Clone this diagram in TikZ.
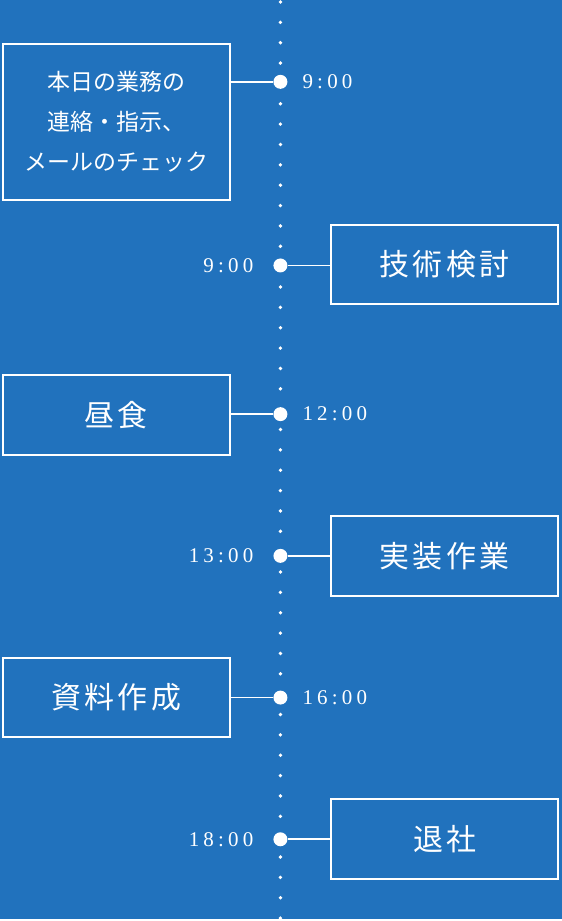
\documentclass[tikz,border=0pt]{standalone}
\usepackage{fontspec}
\setmainfont{Liberation Serif}
\newfontfamily\jpfont[LetterSpace=11]{Noto Sans CJK JP}
\newfontfamily\jpsmall{Noto Sans CJK JP}
\definecolor{bgblue}{HTML}{2172BD}

\begin{document}
\begin{tikzpicture}[x=1pt, y=-1pt,
    every node/.style={text=white},
    task/.style={draw=white, line width=2pt, minimum width=227pt, minimum height=80pt, inner sep=0pt, font=\jpfont\fontsize{30}{34}\selectfont},
    stamp/.style={circle, fill=white, minimum size=14pt, inner sep=0pt},
    clock/.style={inner sep=0pt, font=\addfontfeatures{LetterSpace=20}\fontsize{21}{22}\selectfont},
    link/.style={white, line width=1.8pt}]
  \fill[bgblue] (0,0) rectangle (563,921);
  \draw[white, line width=3.8pt, line cap=round, dash pattern=on 0pt off 20.4pt] (281,2) -- (281,921);

  % tasks on the left
  \node[task, minimum height=156pt, align=center, font=\jpsmall\fontsize{23}{40}\selectfont] (mail) at (116.5,122)
    {本日の業務の\\連絡・指示、\\メールのチェック};
  \node[task] (lunch) at (116.5,416) {昼食};
  \node[task] (docs) at (116.5,699) {資料作成};

  % tasks on the right
  \node[task] (study) at (445.5,265) {技術検討};
  \node[task] (impl) at (445.5,557) {実装作業};
  \node[task] (leave) at (445.5,841) {退社};

  \foreach \y/\name in {82/c1, 266/c2, 415/c3, 557/c4, 699/c5, 841/c6}
    \node[stamp] (\name) at (281,\y) {};

  \node[clock, anchor=west] (h1) at (303,82) {9:00};
  \node[clock, anchor=east] (h2) at (254,266) {9:00};
  \node[clock, anchor=west] (h3) at (303,415) {12:00};
  \node[clock, anchor=east] (h4) at (254,557) {13:00};
  \node[clock, anchor=west] (h5) at (303,699) {16:00};
  \node[clock, anchor=east] (h6) at (254,841) {18:00};

  \draw[link] (mail.east |- c1) -- (c1);
  \draw[link] (c2) -- (study.west |- c2);
  \draw[link] (lunch.east |- c3) -- (c3);
  \draw[link] (c4) -- (impl.west |- c4);
  \draw[link] (docs.east |- c5) -- (c5);
  \draw[link] (c6) -- (leave.west |- c6);
\end{tikzpicture}
\end{document}
